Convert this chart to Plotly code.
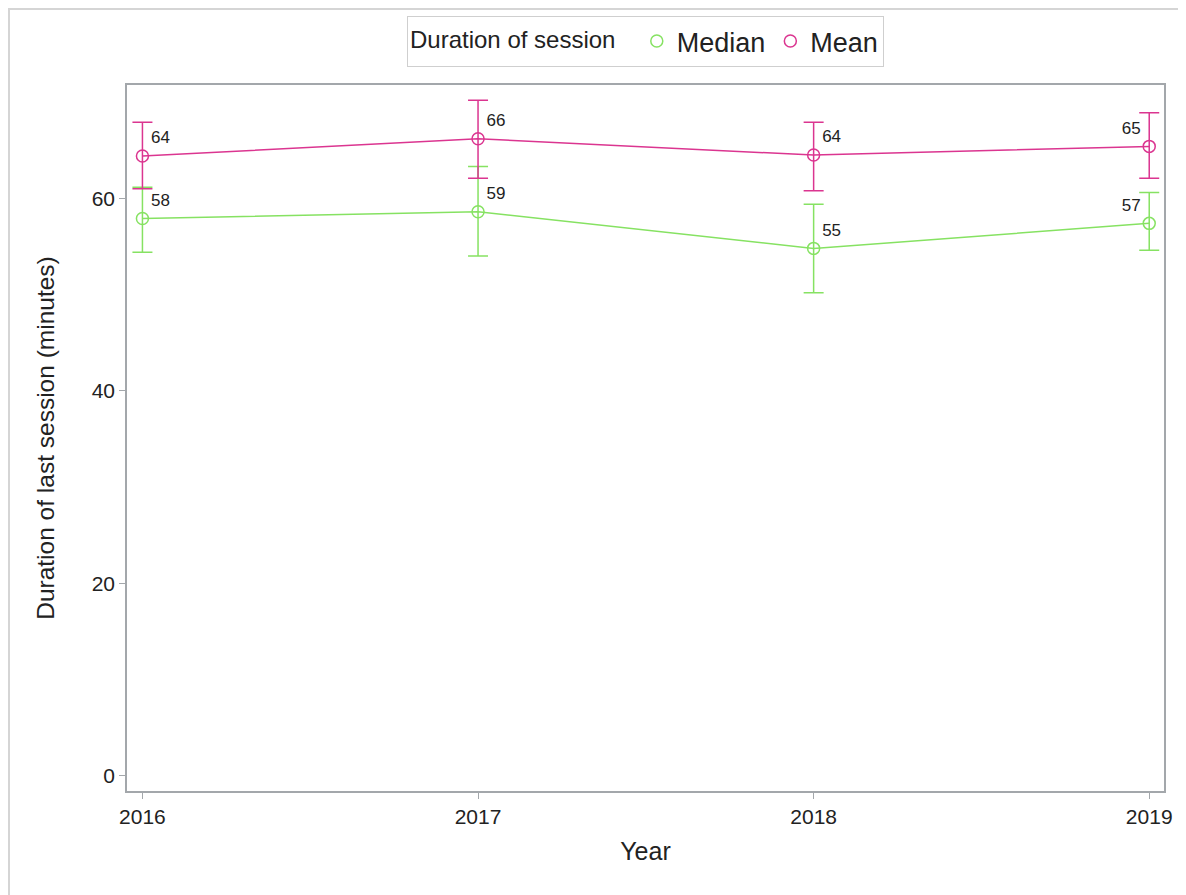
import plotly.graph_objects as go

years = [2016, 2017, 2018, 2019]
median_vals = [57.9, 58.6, 54.8, 57.4]
median_hi = [61.15, 63.3, 59.4, 60.6]
median_lo = [54.4, 54.0, 50.2, 54.6]
mean_vals = [64.4, 66.2, 64.5, 65.4]
mean_hi = [67.9, 70.2, 67.9, 68.9]
mean_lo = [61.0, 62.1, 60.8, 62.1]
median_labels = ["58", "59", "55", "57"]
mean_labels = ["64", "66", "64", "65"]
label_pos = ["top right", "top right", "top right", "top left"]

GREEN = "#86E262"
PINK = "#DB3590"
FONT = "Liberation Sans, Arial, sans-serif"

fig = go.Figure()

def add_series(name, vals, hi, lo, labels, color):
    fig.add_trace(go.Scatter(
        x=years, y=vals, mode="lines+markers+text", name=name,
        showlegend=False,
        line=dict(color=color, width=1.5),
        marker=dict(symbol="circle-open", size=12, color=color, line=dict(width=1.5)),
        text=labels, textposition=label_pos,
        textfont=dict(family=FONT, size=17, color="#222222"),
        error_y=dict(type="data", symmetric=False,
                     array=[h - v for h, v in zip(hi, vals)],
                     arrayminus=[v - l for v, l in zip(vals, lo)],
                     color=color, thickness=1.5, width=10),
    ))

add_series("Median", median_vals, median_hi, median_lo, median_labels, GREEN)
add_series("Mean", mean_vals, mean_hi, mean_lo, mean_labels, PINK)

for name, color in [("Median", GREEN), ("Mean", PINK)]:
    fig.add_trace(go.Scatter(
        x=[None], y=[None], mode="markers", name=name,
        marker=dict(symbol="circle-open", size=12, color=color, line=dict(width=1.5)),
    ))

axis_color = "#A3A7AB"
W, H = 1178, 887
L, R, T, B = 119, 22, 77, 104
pw, ph = W - L - R, H - T - B

fig.update_layout(
    width=W, height=H,
    margin=dict(l=L, r=R, t=T, b=B, autoexpand=False),
    paper_bgcolor="white", plot_bgcolor="white",
    font=dict(family=FONT, color="#222222"),
    legend=dict(
        orientation="h", x=0.5, xanchor="center", y=1 + 18 / ph, yanchor="bottom",
        title=dict(text="Duration of session  ", font=dict(size=24, family=FONT)),
        font=dict(size=27, family=FONT),
        bordercolor="#CFCFCF", borderwidth=1, bgcolor="white",
        itemwidth=30, tracegroupgap=0,
    ),
    xaxis=dict(
        range=[2015.954, 2019.044], tickvals=years, ticktext=[str(y) for y in years],
        showgrid=False, zeroline=False, showline=True, mirror=True,
        linecolor=axis_color, linewidth=1.5,
        ticks="outside", ticklen=6, tickcolor=axis_color,
        tickfont=dict(size=21, family=FONT),
        title=dict(text="Year", font=dict(size=25, family=FONT), standoff=16),
    ),
    yaxis=dict(
        range=[-1.59, 71.78], tickvals=[0, 20, 40, 60],
        showgrid=False, zeroline=False, showline=True, mirror=True,
        linecolor=axis_color, linewidth=1.5,
        ticks="outside", ticklen=6, tickcolor=axis_color,
        tickfont=dict(size=21, family=FONT),
        title=dict(text="Duration of last session (minutes)", font=dict(size=24.5, family=FONT), standoff=30),
    ),
)

fig.add_shape(type="rect", xref="paper", yref="paper",
              x0=(1 - L) / pw, x1=(W + 10 - L) / pw,
              y0=-(B + 10) / ph, y1=(ph + T - 1) / ph,
              line=dict(color="#D5D5D5", width=2), layer="below")

fig.write_html("out.html")
